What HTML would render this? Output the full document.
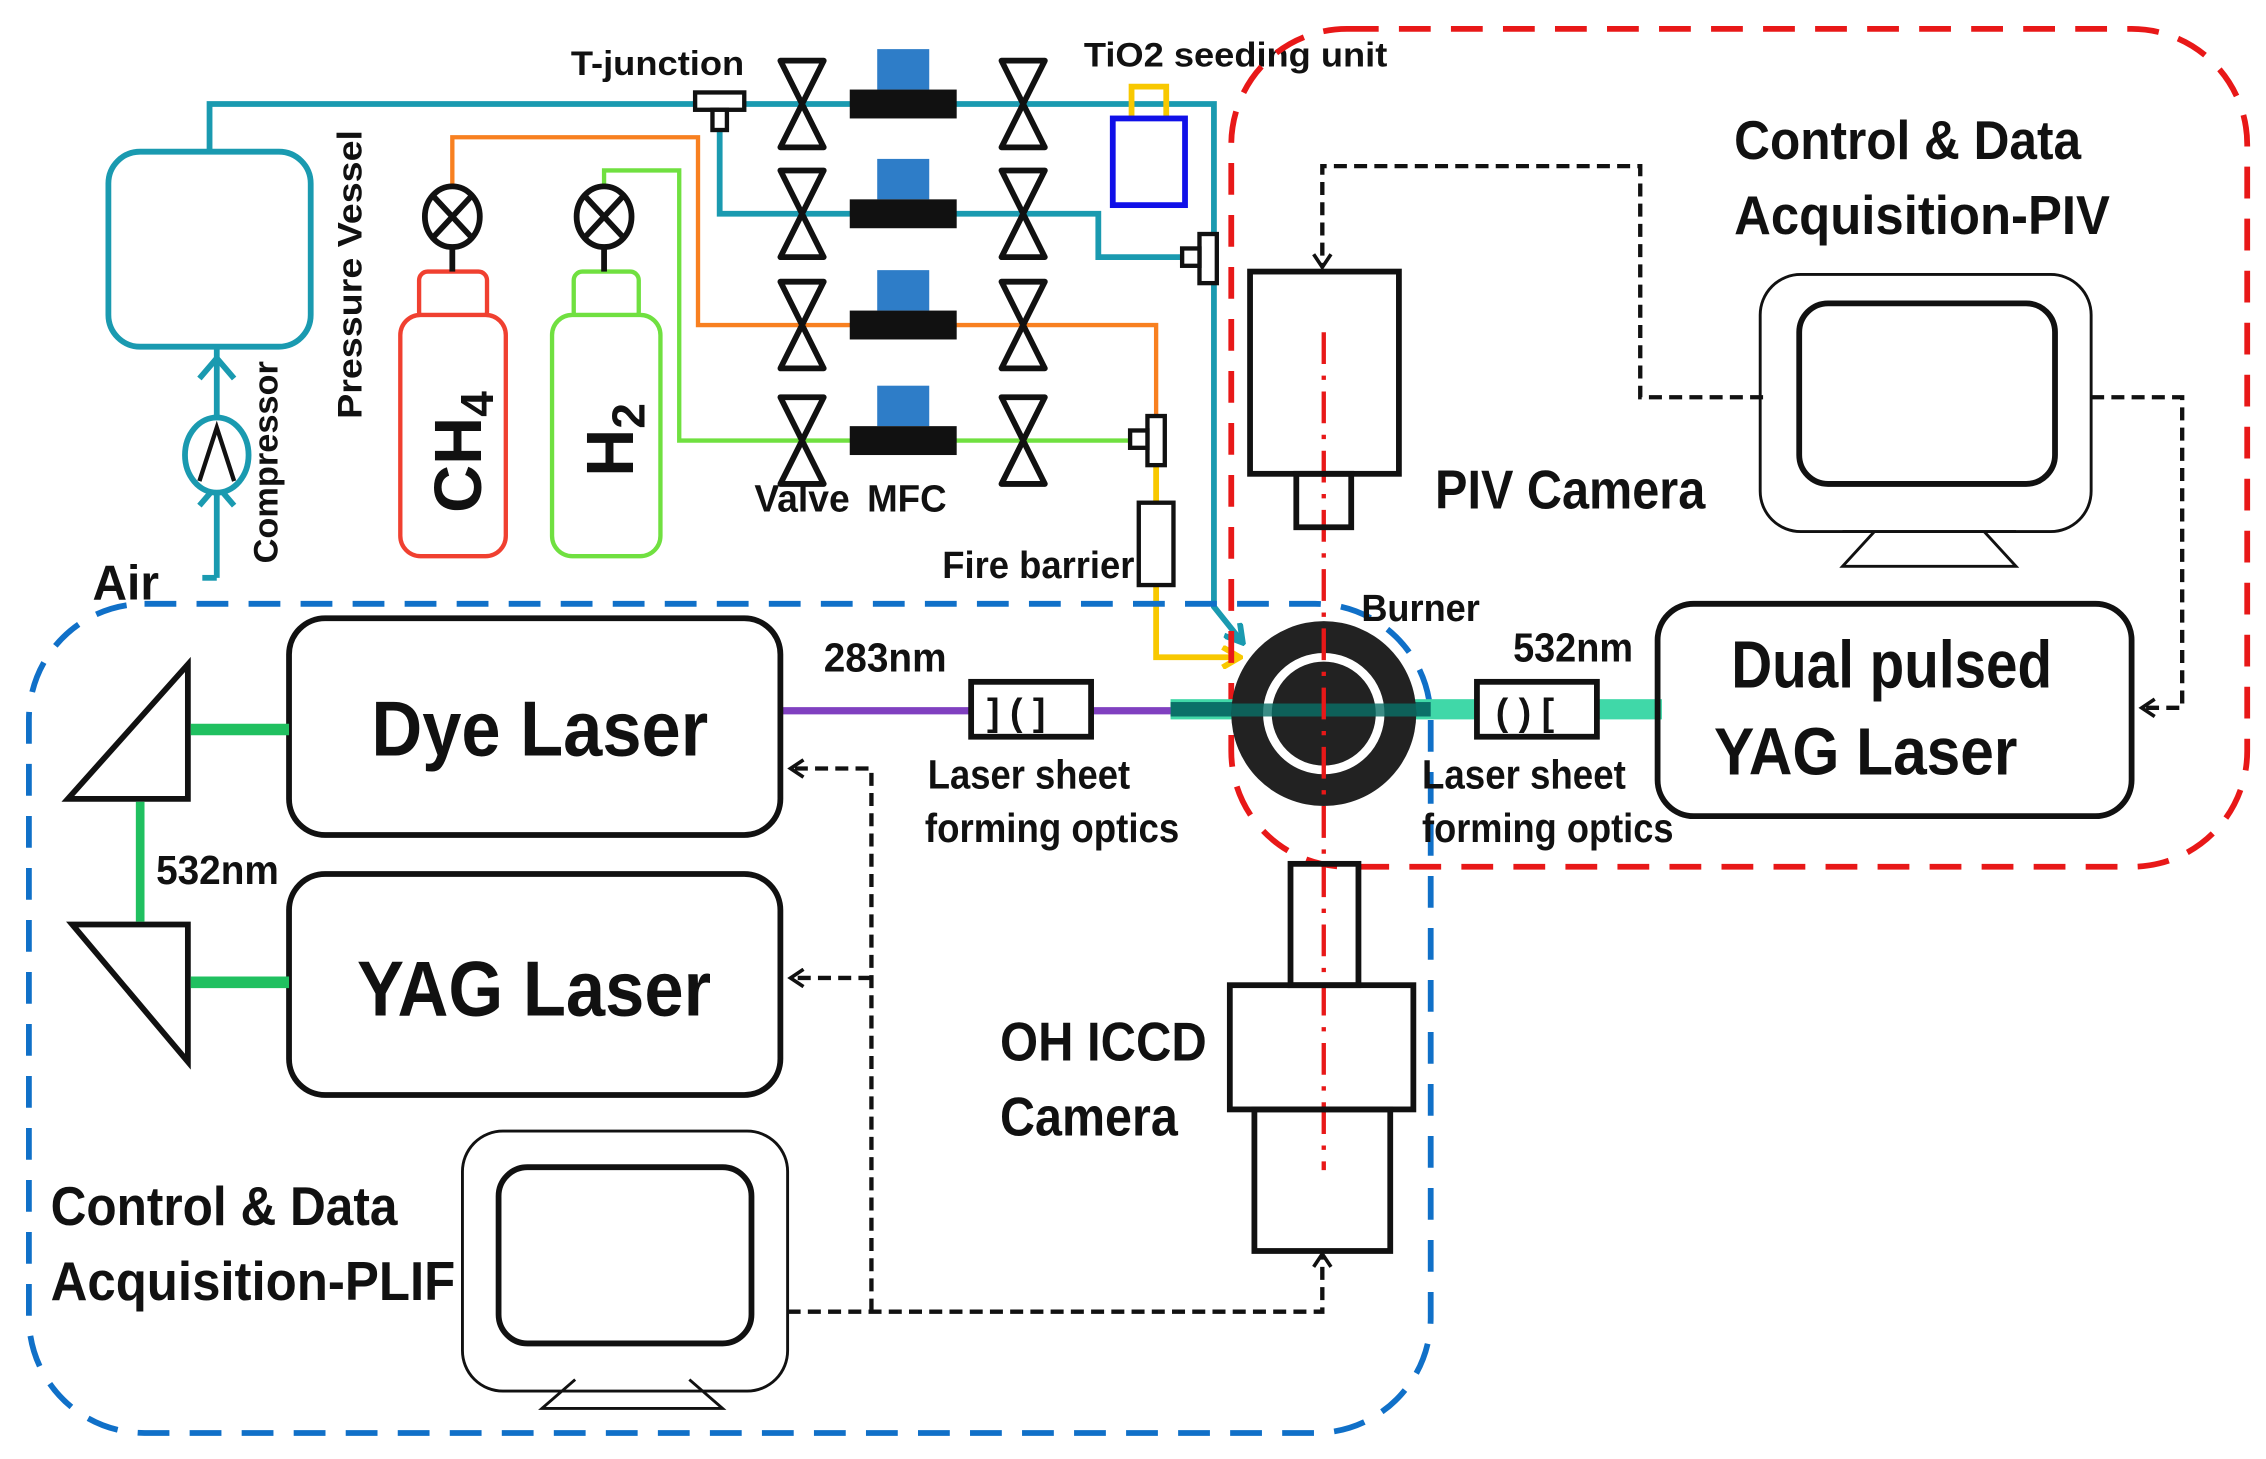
<!DOCTYPE html>
<html><head><meta charset="utf-8"><style>
html,body{margin:0;padding:0;background:#fff;}
svg{display:block;}
text{font-family:"Liberation Sans Narrow","Liberation Sans",sans-serif;font-weight:bold;fill:#111;}
</style></head><body>
<svg width="2266" height="1459" viewBox="0 0 1568 1010" preserveAspectRatio="none" xmlns="http://www.w3.org/2000/svg">
<defs>
<marker id="ah" markerWidth="14" markerHeight="14" refX="11" refY="7" orient="auto" markerUnits="userSpaceOnUse">
<path d="M2,1 L11,7 L2,13" fill="none" stroke="#111" stroke-width="2.5"/></marker>
<marker id="ay" markerWidth="16" markerHeight="16" refX="14" refY="8" orient="auto" markerUnits="userSpaceOnUse">
<path d="M2,1 L14,8 L2,15" fill="none" stroke="#f8c800" stroke-width="4"/></marker>
<marker id="at" markerWidth="16" markerHeight="16" refX="14" refY="8" orient="auto" markerUnits="userSpaceOnUse">
<path d="M2,1 L14,8 L2,15" fill="none" stroke="#1a9ab0" stroke-width="4"/></marker>
</defs>
<rect width="1568" height="1010" fill="#fff"/>

<g fill="none" stroke="#1a9ab0" stroke-width="4">
<path d="M145,105 V72 H840 V420 L860,445" marker-end="url(#at)"/>
<path d="M498,72 V148 H760 V178 H830"/>
<path d="M150,400 H140"/>
<path d="M150,240 V400"/>
<path d="M138,262 L150,248 L162,262"/>
<path d="M138,350 L150,336 L162,350"/>
<rect x="75" y="105" width="140" height="135" rx="22"/>
<ellipse cx="150" cy="315" rx="22" ry="26" fill="#fff"/>
</g>
<path d="M138,333 L150,296 L162,333" fill="none" stroke="#111" stroke-width="3"/>

<path d="M313,130 V95 H483 V225 H800 V300" fill="none" stroke="#f88020" stroke-width="3"/>
<path d="M418,130 V118 H470 V305 H790" fill="none" stroke="#70e040" stroke-width="3"/>
<path d="M800,310 V455 H858" fill="none" stroke="#f8c800" stroke-width="4" marker-end="url(#ay)"/>
<path d="M783,82 V60 H807 V82" fill="none" stroke="#f8c800" stroke-width="4"/>
<rect x="770" y="82" width="50" height="60" fill="#fff" stroke="#1010e8" stroke-width="4"/>

<g fill="#fff" stroke="#111" stroke-width="3">
<rect x="481" y="64" width="34" height="12"/><rect x="493" y="76" width="10" height="14"/>
<rect x="830" y="162" width="12" height="34"/><rect x="818" y="172" width="12" height="12"/>
<rect x="794" y="288" width="12" height="34"/><rect x="782" y="298" width="12" height="12"/>
<rect x="788" y="348" width="24" height="57"/>
</g>

<g id="row">
<path d="M540,42 H570 L540,102 H570 Z" fill="#fff" stroke="#111" stroke-width="4" stroke-linejoin="round"/>
<path d="M693,42 H723 L693,102 H723 Z" fill="#fff" stroke="#111" stroke-width="4" stroke-linejoin="round"/>
<rect x="607" y="34" width="36" height="28" fill="#2e7dc8"/>
<rect x="588" y="62" width="74" height="20" fill="#111"/>
</g>
<use href="#row" y="76"/><use href="#row" y="153"/><use href="#row" y="233"/>

<g fill="#fff" stroke-width="3">
<rect x="290" y="188" width="47" height="34" rx="6" stroke="#f04030"/>
<rect x="277" y="218" width="73" height="167" rx="14" stroke="#f04030"/>
<rect x="397" y="188" width="45" height="34" rx="6" stroke="#70e040"/>
<rect x="382" y="218" width="75" height="167" rx="14" stroke="#70e040"/>
</g>
<g stroke="#111" stroke-width="4" fill="#fff">
<line x1="313" y1="170" x2="313" y2="188"/><line x1="418" y1="170" x2="418" y2="188"/>
<ellipse cx="313" cy="150" rx="19" ry="21"/><ellipse cx="418" cy="150" rx="19" ry="21"/>
<path d="M300,136 L326,164 M326,136 L300,164 M405,136 L431,164 M431,136 L405,164"/>
</g>
<text transform="translate(333,355) rotate(-90)" font-size="46" font-family="Liberation Sans">CH<tspan font-size="32" dy="8">4</tspan></text>
<text transform="translate(438,330) rotate(-90)" font-size="46" font-family="Liberation Sans">H<tspan font-size="32" dy="8">2</tspan></text>
<text transform="translate(250,290) rotate(-90)" font-size="24" textLength="200" lengthAdjust="spacingAndGlyphs">Pressure Vessel</text>
<text transform="translate(192,390) rotate(-90)" font-size="24" textLength="140" lengthAdjust="spacingAndGlyphs">Compressor</text>
<text x="64" y="415" font-size="34" textLength="46" lengthAdjust="spacingAndGlyphs">Air</text>
<text x="395" y="52" font-size="24" textLength="120" lengthAdjust="spacingAndGlyphs">T-junction</text>
<text x="750" y="46" font-size="24" textLength="210" lengthAdjust="spacingAndGlyphs">TiO2 seeding unit</text>
<text x="522" y="354" font-size="26" textLength="66" lengthAdjust="spacingAndGlyphs">Valve</text>
<text x="600" y="354" font-size="26" textLength="55" lengthAdjust="spacingAndGlyphs">MFC</text>
<text x="652" y="400" font-size="26" textLength="133" lengthAdjust="spacingAndGlyphs">Fire barrier</text>

<rect x="852" y="20" width="703" height="580" rx="80" fill="none" stroke="#e81818" stroke-width="4" stroke-dasharray="22,14"/>
<rect x="20" y="418" width="970" height="574" rx="80" fill="none" stroke="#1070c8" stroke-width="4" stroke-dasharray="22,14"/>

<rect x="810" y="484" width="340" height="14" fill="#40d8a8"/>
<rect x="810" y="486" width="180" height="10" fill="#0a7068"/>
<line x1="540" y1="492" x2="810" y2="492" stroke="#8040c0" stroke-width="5"/>

<circle cx="916" cy="494" r="64" fill="#222"/>
<circle cx="916" cy="494" r="39" fill="none" stroke="#fff" stroke-width="6"/>
<rect x="852" y="487" width="128" height="9" fill="#0a7068" opacity="0.8"/>
<line x1="916" y1="230" x2="916" y2="810" stroke="#e81818" stroke-width="3" stroke-dasharray="22,8,3,8"/>
<text x="942" y="430" font-size="26" textLength="82" lengthAdjust="spacingAndGlyphs">Burner</text>

<rect x="672" y="472" width="83" height="38" fill="#fff" stroke="#111" stroke-width="4"/>
<text x="683" y="502" font-size="26">] ( ]</text>
<rect x="1022" y="472" width="83" height="38" fill="#fff" stroke="#111" stroke-width="4"/>
<text x="1035" y="502" font-size="26">( ) [</text>
<text x="570" y="465" font-size="28" textLength="85" lengthAdjust="spacingAndGlyphs">283nm</text>
<text x="1047" y="458" font-size="28" textLength="83" lengthAdjust="spacingAndGlyphs">532nm</text>
<text x="642" y="546" font-size="28" textLength="140" lengthAdjust="spacingAndGlyphs">Laser sheet</text>
<text x="640" y="583" font-size="28" textLength="176" lengthAdjust="spacingAndGlyphs">forming optics</text>
<text x="984" y="546" font-size="28" textLength="141" lengthAdjust="spacingAndGlyphs">Laser sheet</text>
<text x="984" y="583" font-size="28" textLength="174" lengthAdjust="spacingAndGlyphs">forming optics</text>

<g fill="none" stroke="#111" stroke-width="4">
<rect x="865" y="188" width="103" height="140"/>
<rect x="897" y="328" width="38" height="37"/>
<rect x="893" y="598" width="47" height="84"/>
<rect x="851" y="682" width="127" height="86"/>
<rect x="868" y="768" width="94" height="98"/>
<rect x="1147" y="418" width="328" height="147" rx="25"/>
<rect x="200" y="428" width="340" height="150" rx="25"/>
<rect x="200" y="605" width="340" height="153" rx="25"/>
<rect x="1245" y="210" width="177" height="125" rx="20"/>
<rect x="345" y="808" width="175" height="122" rx="20"/>
</g>
<g fill="none" stroke="#111" stroke-width="2">
<rect x="1218" y="190" width="229" height="178" rx="28"/>
<path d="M1297,368 L1275,392 H1395 L1373,368"/>
<rect x="320" y="783" width="225" height="180" rx="28"/>
<path d="M398,955 L375,975 H500 L477,955"/>
</g>
<line x1="1275" y1="368" x2="1395" y2="368" stroke="#111" stroke-width="2"/>
<text x="993" y="352" font-size="38" textLength="187" lengthAdjust="spacingAndGlyphs">PIV Camera</text>
<text x="1200" y="110" font-size="38" textLength="240" lengthAdjust="spacingAndGlyphs">Control &amp; Data</text>
<text x="1200" y="162" font-size="38" textLength="260" lengthAdjust="spacingAndGlyphs">Acquisition-PIV</text>
<text x="1198" y="476" font-size="46" textLength="222" lengthAdjust="spacingAndGlyphs">Dual pulsed</text>
<text x="1186" y="536" font-size="46" textLength="210" lengthAdjust="spacingAndGlyphs">YAG Laser</text>
<text x="257" y="523" font-size="54" textLength="233" lengthAdjust="spacingAndGlyphs">Dye Laser</text>
<text x="247" y="703" font-size="54" textLength="245" lengthAdjust="spacingAndGlyphs">YAG Laser</text>
<text x="692" y="734" font-size="38" textLength="143" lengthAdjust="spacingAndGlyphs">OH ICCD</text>
<text x="692" y="786" font-size="38" textLength="123" lengthAdjust="spacingAndGlyphs">Camera</text>
<text x="35" y="848" font-size="38" textLength="240" lengthAdjust="spacingAndGlyphs">Control &amp; Data</text>
<text x="35" y="900" font-size="38" textLength="280" lengthAdjust="spacingAndGlyphs">Acquisition-PLIF</text>

<g fill="#fff" stroke="#111" stroke-width="4">
<path d="M130,460 V553 H47 Z"/>
<path d="M50,640 H130 V735 Z"/>
</g>
<g stroke="#20c060" stroke-width="8">
<line x1="132" y1="505" x2="200" y2="505"/>
<line x1="132" y1="680" x2="200" y2="680"/>
<line x1="97" y1="555" x2="97" y2="638" stroke-width="6"/>
</g>
<text x="108" y="612" font-size="28" textLength="85" lengthAdjust="spacingAndGlyphs">532nm</text>

<g fill="none" stroke="#111" stroke-width="3" stroke-dasharray="9,5">
<path d="M1220,275 H1135 V115 H915 V185" marker-end="url(#ah)"/>
<path d="M1447,275 H1510 V490 H1482" marker-end="url(#ah)"/>
<path d="M545,908 H915 V868" marker-end="url(#ah)"/>
<path d="M603,908 V532 H547" marker-end="url(#ah)"/>
<path d="M603,677 H547" marker-end="url(#ah)"/>
</g>
</svg>
</body></html>
